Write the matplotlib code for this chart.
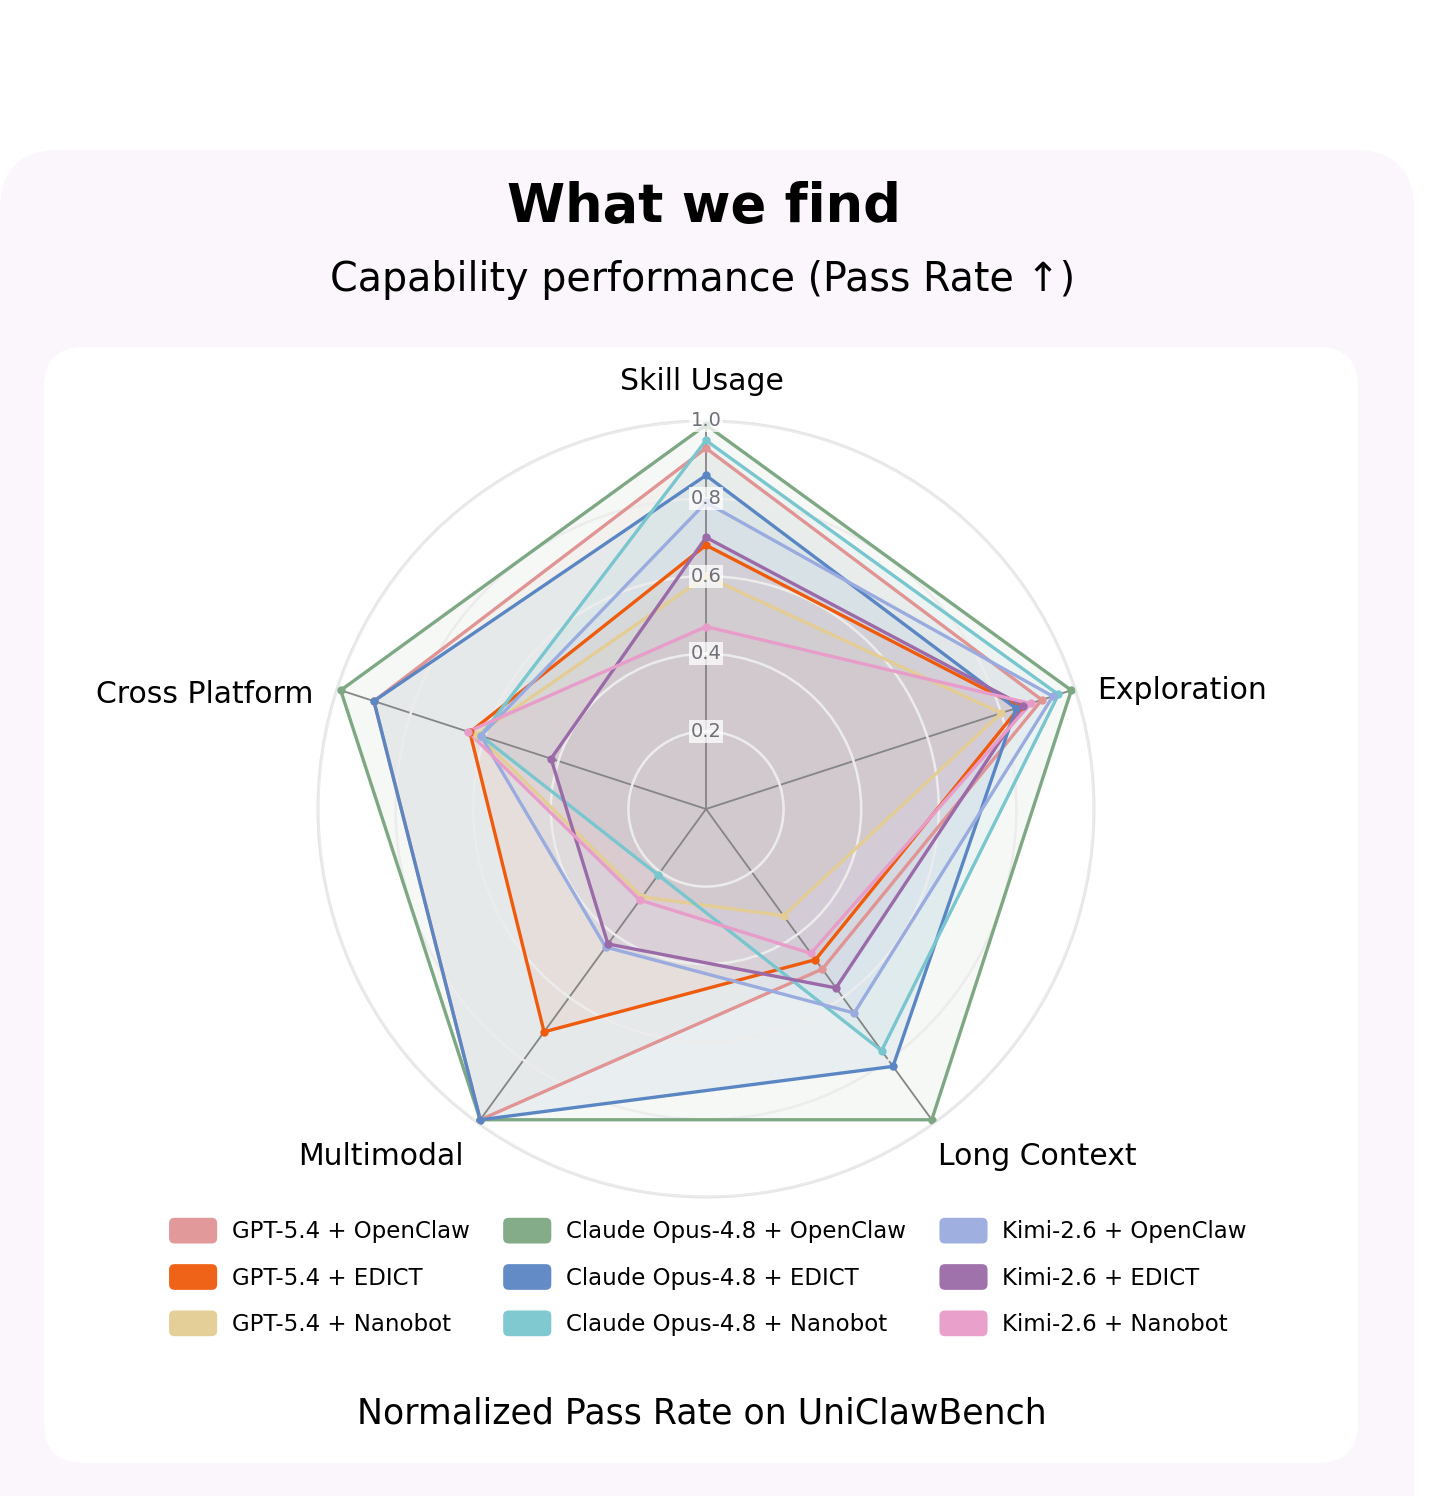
import numpy as np
import matplotlib
matplotlib.use("Agg")
import matplotlib.pyplot as plt
from matplotlib.patches import FancyBboxPatch, Patch
from matplotlib.legend_handler import HandlerPatch

plt.rcParams['font.family'] = ['DejaVu Sans']

categories = ['Skill Usage', 'Exploration', 'Long Context', 'Multimodal', 'Cross Platform']

series_names = [
    'GPT-5.4 + OpenClaw', 'GPT-5.4 + EDICT', 'GPT-5.4 + Nanobot',
    'Claude Opus-4.8 + OpenClaw', 'Claude Opus-4.8 + EDICT', 'Claude Opus-4.8 + Nanobot',
    'Kimi-2.6 + OpenClaw', 'Kimi-2.6 + EDICT', 'Kimi-2.6 + Nanobot',
]

gpt_openclaw = [0.93, 0.91, 0.51, 0.99, 0.90]
gpt_edict = [0.68, 0.85, 0.48, 0.71, 0.64]
gpt_nanobot = [0.60, 0.80, 0.34, 0.28, 0.62]
claude_openclaw = [0.99, 0.99, 0.99, 0.99, 0.99]
claude_edict = [0.86, 0.84, 0.82, 0.99, 0.90]
claude_nanobot = [0.95, 0.955, 0.77, 0.21, 0.61]
kimi_openclaw = [0.79, 0.94, 0.65, 0.44, 0.61]
kimi_edict = [0.70, 0.86, 0.57, 0.43, 0.42]
kimi_nanobot = [0.47, 0.88, 0.46, 0.29, 0.645]

series_values = [gpt_openclaw, gpt_edict, gpt_nanobot,
                 claude_openclaw, claude_edict, claude_nanobot,
                 kimi_openclaw, kimi_edict, kimi_nanobot]

colors = ['#e09494', '#ef5b0c', '#e3cd94',
          '#7ea883', '#5b86c4', '#79c6cf',
          '#9aacdf', '#9b6aa8', '#e89cc9']

radial_ticks = [0.2, 0.4, 0.6, 0.8, 1.0]
radial_tick_labels = ['0.2', '0.4', '0.6', '0.8', '1.0']

W, H = 1452, 1496
fig = plt.figure(figsize=(W / 100, H / 100), dpi=100)
fig.patch.set_facecolor('white')

# background panels (pixel coordinates)
outer = FancyBboxPatch((0, -100), 1414, H - 150 + 100,
                       boxstyle='round,pad=0,rounding_size=60',
                       transform=None, facecolor='#faf6fc', edgecolor='none', zorder=-10)
inner = FancyBboxPatch((44, H - 1463), 1358 - 44, 1463 - 347,
                       boxstyle='round,pad=0,rounding_size=40',
                       transform=None, facecolor='white', edgecolor='none', zorder=-9)
fig.patches.extend([outer, inner])

fig.text(704 / W, 1 - 207 / H, 'What we find', ha='center', va='center',
         fontsize=38, fontweight='bold', color='black')
fig.text(703 / W, 1 - 280 / H, 'Capability performance (Pass Rate \u2191)', ha='center', va='center',
         fontsize=28.5, color='black')
fig.text(702 / W, 1 - 1413 / H, 'Normalized Pass Rate on UniClawBench', ha='center', va='center',
         fontsize=25, color='black')

cx, cy, R = 706, 809, 388
ax = fig.add_axes([(cx - R) / W, 1 - (cy + R) / H, 2 * R / W, 2 * R / H], projection='polar')
ax.patch.set_alpha(0)
ax.set_theta_offset(np.pi / 2)
ax.set_theta_direction(-1)
ax.set_ylim(0, 1.0)

n = len(categories)
angles = np.linspace(0, 2 * np.pi, n, endpoint=False)
ax.set_xticks(angles)
ax.set_xticklabels([])
ax.set_yticks(radial_ticks)
ax.set_yticklabels([])
ax.tick_params(axis='both', length=0)
ax.set_axisbelow(False)
ax.xaxis.grid(True, color='#858585', linewidth=1.3, zorder=2.5)
ax.yaxis.grid(True, color='#ececec', linewidth=1.8, zorder=2.5)
ax.spines['polar'].set_color('#e6e6e6')
ax.spines['polar'].set_linewidth(2.2)

ang_closed = np.concatenate([angles, angles[:1]])
for vals, col in zip(series_values, colors):
    v = np.array(vals + vals[:1])
    ax.fill(ang_closed, v, color=col, alpha=0.075, zorder=1, linewidth=0)
for vals, col in zip(series_values, colors):
    v = np.array(vals + vals[:1])
    ax.plot(ang_closed, v, color=col, linewidth=2.4, zorder=3, solid_joinstyle='miter')
    ax.plot(angles, vals, 'o', color=col, markersize=5, zorder=3.5)

for t, lab in zip(radial_ticks, radial_tick_labels):
    ax.text(0, t, lab, ha='center', va='center', fontsize=14, color='#6f6f78', zorder=5,
            bbox=dict(boxstyle='square,pad=0.1', facecolor='white', edgecolor='none', alpha=0.75))

label_specs = [
    ((-4, 40), 'center'),
    ((22, -1), 'left'),
    ((4, -34), 'left'),
    ((-14, -34), 'right'),
    ((-24, -5), 'right'),
]
for a, lab, (off, ha) in zip(angles, categories, label_specs):
    ax.annotate(lab, xy=(a, 1.0), xytext=off, textcoords='offset pixels',
                ha=ha, va='center', fontsize=21.5, color='black', annotation_clip=False)


def round_patch(legend, orig_handle, xdescent, ydescent, width, height, fontsize):
    return FancyBboxPatch((-xdescent, -ydescent), width, height,
                          boxstyle='round,pad=0,rounding_size=4')


handles = [Patch(facecolor=c, edgecolor='none', alpha=0.95) for c in colors]
fig.legend(handles, series_names, loc='center', bbox_to_anchor=(708 / W, 1 - 1277 / H),
           ncol=3, frameon=False, fontsize=16.5, handlelength=2.1, handleheight=1.35,
           handletextpad=0.65, labelspacing=0.9, columnspacing=1.45,
           handler_map={Patch: HandlerPatch(patch_func=round_patch)})

fig.savefig('out.png', dpi=100, facecolor='white')
